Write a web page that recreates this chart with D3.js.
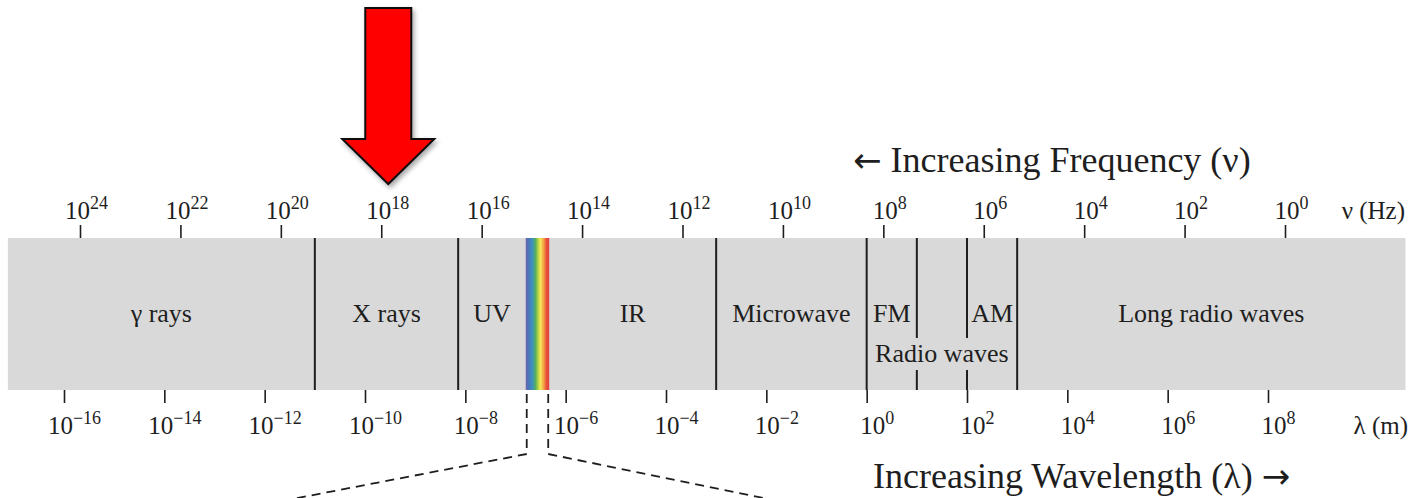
<!DOCTYPE html>
<html>
<head>
<meta charset="utf-8">
<script src="https://cdn.jsdelivr.net/npm/d3@7"></script>
<style>
  body { margin: 0; background: #fff; }
  svg { display: block; }
</style>
</head>
<body>
<svg></svg>
<script>
// tick exponents for the two log axes
const freqExponents = [24, 22, 20, 18, 16, 14, 12, 10, 8, 6, 4, 2, 0];
const waveExponents = [-16, -14, -12, -10, -8, -6, -4, -2, 0, 2, 4, 6, 8];

// spectrum regions, in wavelength (m)
const regionNames = ["γ rays", "X rays", "UV", "IR", "Microwave", "FM", "AM", "Long radio waves"];
const regionFrom  = [7.6e-18, 1e-11, 7.2e-9, 4.7e-7, 1e-3, 1, 100, 1000];
const regionTo    = [1e-11, 7.2e-9, 1.6e-7, 1e-3, 1, 10, 1000, 5.5e10];
const visibleBand = [1.6e-7, 4.7e-7];
const radioBand   = [1, 1000];

// boundaries drawn as black lines; "broken" ones leave room for the Radio waves label
const fullDividers   = [1e-11, 7.2e-9, 1e-3, 1, 1000];
const brokenDividers = [10, 100];

const W = 1412, H = 498;
const bandTop = 238, bandBottom = 390;
const serif = "'Liberation Serif', 'Times New Roman', 'DejaVu Serif', serif";
const arrowFont = "'DejaVu Sans', sans-serif";
const ink = "#1e1e1e";

const svg = d3.select("svg").attr("width", W).attr("height", H);

const defs = svg.append("defs");
const grad = defs.append("linearGradient").attr("id", "rainbow");
[["0%", "#6b63aa"], ["14%", "#4877bd"], ["30%", "#3e95b8"], ["42%", "#56b15a"],
 ["55%", "#c9d845"], ["63%", "#f3e65a"], ["76%", "#f2a544"], ["88%", "#e9513c"], ["100%", "#e0403a"]]
  .forEach(([o, c]) => grad.append("stop").attr("offset", o).attr("stop-color", c));

const shadow = defs.append("filter").attr("id", "shadow")
  .attr("x", "-30%").attr("y", "-30%").attr("width", "160%").attr("height", "160%");
shadow.append("feDropShadow").attr("dx", 2).attr("dy", 3).attr("stdDeviation", 2.5)
  .attr("flood-color", "#000").attr("flood-opacity", 0.35);

const fx = d3.scaleLog().domain([1e24, 1]).range([80, 1285]);
const lx = d3.scaleLog().domain([1e-16, 1e8]).range([64, 1268]);

// grey band
svg.append("rect")
  .attr("x", lx(regionFrom[0]))
  .attr("y", bandTop)
  .attr("width", lx(regionTo[regionTo.length - 1]) - lx(regionFrom[0]))
  .attr("height", bandBottom - bandTop)
  .attr("fill", "#d9d9d9");

// visible light strip
svg.append("rect")
  .attr("x", lx(visibleBand[0]))
  .attr("y", bandTop)
  .attr("width", lx(visibleBand[1]) - lx(visibleBand[0]))
  .attr("height", bandBottom - bandTop)
  .attr("fill", "url(#rainbow)");

// dividers
svg.selectAll(".divider").data(fullDividers).join("line")
  .attr("class", "divider")
  .attr("x1", d => lx(d)).attr("x2", d => lx(d))
  .attr("y1", bandTop).attr("y2", bandBottom)
  .attr("stroke", ink).attr("stroke-width", 2);

brokenDividers.forEach(d => {
  [[bandTop, 338], [370, bandBottom]].forEach(([a, b]) => {
    svg.append("line")
      .attr("x1", lx(d)).attr("x2", lx(d))
      .attr("y1", a).attr("y2", b)
      .attr("stroke", ink).attr("stroke-width", 2);
  });
});

// region labels
svg.selectAll(".region-label").data(regionNames).join("text")
  .attr("class", "region-label")
  .attr("x", (d, i) => (lx(regionFrom[i]) + lx(regionTo[i])) / 2)
  .attr("y", 322)
  .attr("text-anchor", "middle")
  .attr("font-family", serif).attr("font-size", 26).attr("fill", ink)
  .text(d => d);

svg.append("text")
  .attr("x", (lx(radioBand[0]) + lx(radioBand[1])) / 2)
  .attr("y", 362)
  .attr("text-anchor", "middle")
  .attr("font-family", serif).attr("font-size", 26).attr("fill", ink)
  .text("Radio waves");

// power-of-ten labels with a superscript
function powerLabel(sel, exps, dx, y) {
  sel.selectAll(".tick text").each(function (d, i) {
    const e = exps[i];
    const t = d3.select(this)
      .attr("x", dx).attr("y", y).attr("dy", 0)
      .attr("text-anchor", "middle")
      .attr("font-family", serif).attr("font-size", 25).attr("fill", ink)
      .text(null);
    t.append("tspan").text("10");
    t.append("tspan").attr("dy", -10).attr("font-size", 18)
      .text(e < 0 ? "\u2212" + Math.abs(e) : String(e));
  });
}

const topAxis = svg.append("g")
  .attr("transform", `translate(0,${bandTop})`)
  .call(d3.axisTop(fx).tickValues(freqExponents.map(e => Math.pow(10, e))).tickSize(13).tickSizeOuter(0));
topAxis.select(".domain").remove();
topAxis.selectAll(".tick line").attr("stroke", ink).attr("stroke-width", 1.6);
powerLabel(topAxis, freqExponents, 6, -19);

const bottomAxis = svg.append("g")
  .attr("transform", `translate(0,${bandBottom})`)
  .call(d3.axisBottom(lx).tickValues(waveExponents.map(e => Math.pow(10, e))).tickSize(13).tickSizeOuter(0));
bottomAxis.select(".domain").remove();
bottomAxis.selectAll(".tick line").attr("stroke", ink).attr("stroke-width", 1.6);
powerLabel(bottomAxis, waveExponents, 10, 44);

// unit labels
svg.append("text")
  .attr("x", 1405).attr("y", 219).attr("text-anchor", "end")
  .attr("font-family", serif).attr("font-size", 25).attr("fill", ink)
  .text("ν (Hz)");
svg.append("text")
  .attr("x", 1408).attr("y", 434).attr("text-anchor", "end")
  .attr("font-family", serif).attr("font-size", 25).attr("fill", ink)
  .text("λ (m)");

// direction titles
const freqTitle = svg.append("text")
  .attr("x", 853).attr("y", 172)
  .attr("font-family", serif).attr("font-size", 36).attr("fill", ink);
freqTitle.append("tspan").attr("font-family", arrowFont).attr("font-size", 34).text("←");
freqTitle.append("tspan").text(" Increasing Frequency (ν)");

const waveTitle = svg.append("text")
  .attr("x", 873).attr("y", 488)
  .attr("font-family", serif).attr("font-size", 36).attr("fill", ink);
waveTitle.append("tspan").text("Increasing Wavelength (λ) ");
waveTitle.append("tspan").attr("font-family", arrowFont).attr("font-size", 34).text("→");

// dashed leaders out of the visible strip
const vl = lx(visibleBand[0]) + 1, vr = lx(visibleBand[1]) - 1;
const dashed = [
  [[vl, bandBottom + 4], [vl, 454], [vl - 250, 502]],
  [[vr, bandBottom + 4], [vr, 454], [vr + 235, 502]]
];
svg.selectAll(".leader").data(dashed).join("path")
  .attr("class", "leader")
  .attr("d", d3.line())
  .attr("fill", "none")
  .attr("stroke", ink).attr("stroke-width", 1.8)
  .attr("stroke-dasharray", "9,6");

// red pointer arrow over 10^18 Hz
const ax = fx(1e18) + 7;
const arrowPts = [[ax - 23, 8], [ax + 23, 8], [ax + 23, 139], [ax + 46, 139],
                  [ax, 184], [ax - 46, 139], [ax - 23, 139]];
svg.append("path")
  .attr("d", d3.line()(arrowPts) + "Z")
  .attr("fill", "#ff0000")
  .attr("stroke", "#111").attr("stroke-width", 2)
  .attr("stroke-linejoin", "miter")
  .attr("filter", "url(#shadow)");
</script>
</body>
</html>
